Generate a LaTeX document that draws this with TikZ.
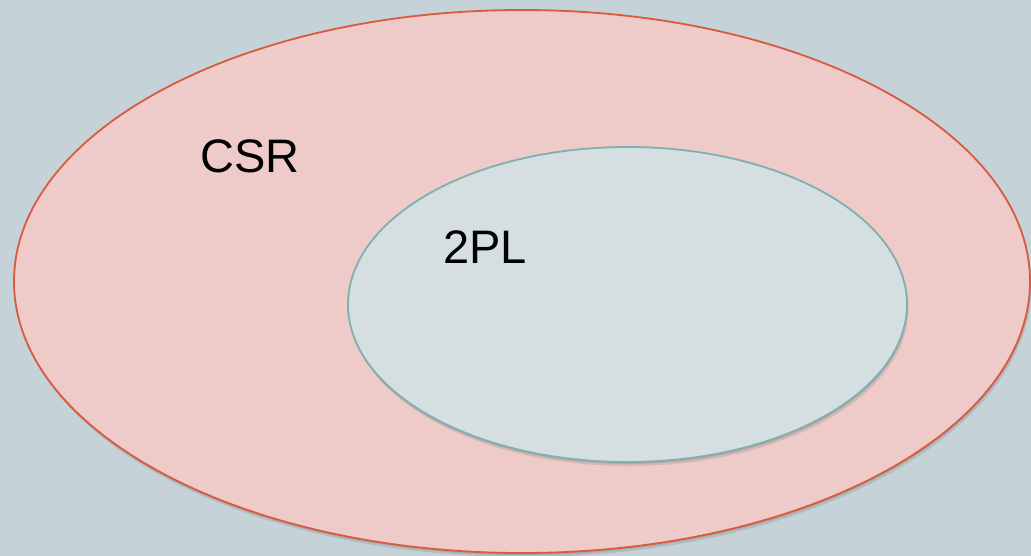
\documentclass[tikz,border=0pt]{standalone}
\usepackage{fontspec}
\setmainfont{Liberation Sans}
\usetikzlibrary{shadows}
\definecolor{slidebg}{RGB}{197,210,216}
\definecolor{csrfill}{RGB}{238,203,200}
\definecolor{csrline}{RGB}{217,90,60}
\definecolor{tplfill}{RGB}{213,223,225}
\definecolor{tplline}{RGB}{127,175,175}
\tikzset{
    setshade/.style={drop shadow={shadow xshift=1.5pt,shadow yshift=-4pt,opacity=0.25},
                     drop shadow={shadow xshift=0.5pt,shadow yshift=-2pt,opacity=0.3}},
    setlabel/.style={font=\fontsize{47}{50}\selectfont,anchor=base,inner sep=0pt}
}
\begin{document}
\begin{tikzpicture}[x=1pt,y=-1pt]
    \fill[slidebg] (0,0) rectangle (1031,556);
    \useasboundingbox (0,0) rectangle (1031,556);
    % CSR
    \filldraw[fill=csrfill,draw=csrline,line width=1.8pt,setshade]
        (522,281.5) ellipse [x radius=508,y radius=271.5];
    % 2PL
    \filldraw[fill=tplfill,draw=tplline,line width=1.8pt,setshade]
        (627.5,304.5) ellipse [x radius=279.5,y radius=157.5];
    \node[setlabel] (csr) at (250,172.7) {CSR};
    \node[setlabel] (tpl) at (485,263) {2PL};
\end{tikzpicture}
\end{document}
